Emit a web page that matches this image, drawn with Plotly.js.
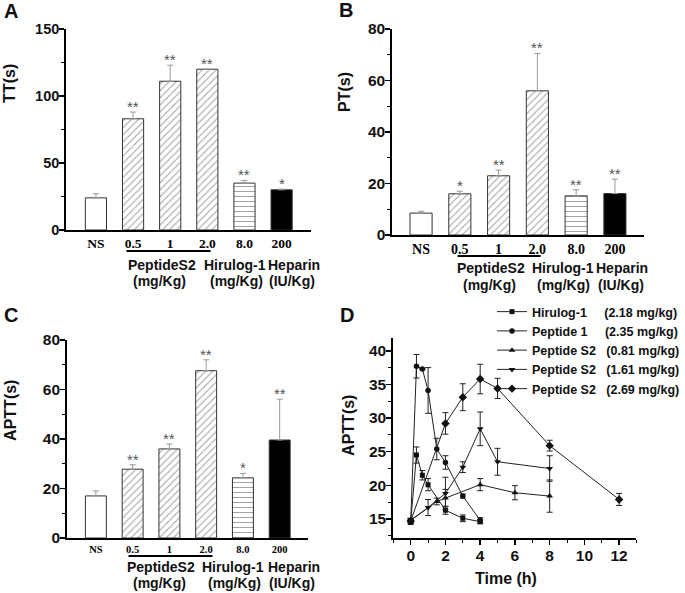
<!DOCTYPE html>
<html>
<head>
<meta charset="utf-8">
<script src="https://cdn.plot.ly/plotly-3.0.1.min.js"></script>
<style>html,body{margin:0;padding:0;background:#fff;}#chart{width:685px;height:593px;}</style>
</head>
<body>
<div id="chart"></div>
<script>
// ---------- data ----------
const categories = ['NS', '0.5', '1', '2.0', '8.0', '200'];
const ttMean = [24, 83, 111, 120, 35, 30];
const ttErr = [3, 5, 12, 0, 2, 0.5];
const ttStars = ['', '**', '**', '**', '**', '*'];
const ptMean = [8.5, 16, 23, 56, 15.2, 16.1];
const ptErr = [0.7, 1, 2.2, 14.5, 2.4, 5.6];
const ptStars = ['', '*', '**', '**', '**', '**'];
const apttMean = [17, 27.8, 36, 67.6, 24.3, 39.6];
const apttErr = [2, 1.8, 2, 4.4, 1.8, 16.5];
const apttStars = ['', '**', '**', '**', '*', '**'];

const hirT = [0, 0.33, 0.67, 1, 2, 3, 4];
const hirV = [14.5, 24.5, 21.5, 20.1, 16.3, 15.1, 14.6];
const hirE = [0.3, 1.2, 0.7, 0.9, 0.6, 0.5, 0.3];
const pep1T = [0, 0.33, 0.67, 1, 1.5, 2, 3, 4];
const pep1V = [14.7, 37.7, 37.3, 34.1, 25.4, 23.4, 18.4, 14.8];
const pep1E = [0.3, 1.75, 0, 3.4, 1.6, 1.0, 0.3, 0.4];
const s2LowT = [0, 1.5, 2, 4, 6, 8];
const s2LowV = [14.8, 17.6, 18.1, 20.1, 18.9, 18.4];
const s2LowE = [0.3, 0.5, 1.3, 0.9, 1.05, 2.4];
const s2MidT = [0, 1, 2, 3, 4, 5, 8];
const s2MidV = [14.8, 16.7, 18.8, 22.7, 28.4, 23.5, 22.5];
const s2MidE = [0.3, 1.2, 2.4, 0.8, 2.5, 2.0, 1.9];
const s2HighT = [0, 2, 3, 4, 5, 8, 12];
const s2HighV = [14.7, 29.2, 33.1, 35.8, 34.4, 25.9, 17.9];
const s2HighE = [0.3, 1.6, 2.0, 2.2, 1.5, 0.8, 0.9];

const seriesNames = ['Hirulog-1', 'Peptide 1', 'Peptide S2', 'Peptide S2', 'Peptide S2'];
const seriesDoses = ['(2.18 mg/kg)', '(2.35 mg/kg)', '(0.81 mg/kg)', '(1.61 mg/kg)', '(2.69 mg/kg)'];

// ---------- styles ----------
const W = 685, H = 593;
const SANS = 'Liberation Sans, Arial, sans-serif';
const SERIF = 'Liberation Serif, Times New Roman, serif';
const px = x => x / W;
const py = y => 1 - y / H;

// bar groups: [first index, last index (exclusive), fill, pattern]
const barGroups = [
  [0, 1, 'white', ''],
  [1, 4, 'white', '/'],
  [4, 5, 'white', '-'],
  [5, 6, 'black', '']
];

function barTraces(mean, err, ax, ay) {
  return barGroups.map(g => {
    const e = err.slice(g[0], g[1]);
    const m = {color: g[2], line: {color: '#333', width: 1}};
    if (g[3]) m.pattern = {shape: g[3], fgcolor: '#999', bgcolor: 'white', fgopacity: 1, size: 5, solidity: 0.18, fillmode: 'replace'};
    return {
      type: 'bar', x: categories.slice(g[0], g[1]), y: mean.slice(g[0], g[1]), xaxis: ax, yaxis: ay,
      width: 0.57, showlegend: false, hoverinfo: 'skip', marker: m,
      error_y: {type: 'data', symmetric: false, array: e, arrayminus: e.map(() => 0),
                color: '#999', thickness: 1, width: 3}
    };
  });
}
// significance marks: x given as the category's serial position on the category axis
function starAnnotations(mean, err, stars, ax, ay) {
  return categories.map((c, i) => ({
    text: stars[i], x: i, y: mean[i] + err[i], xref: ax, yref: ay,
    xanchor: 'center', yanchor: 'bottom', yshift: -5, showarrow: false,
    font: {family: SANS, size: 15, color: '#555'}
  })).filter(a => a.text);
}

const doseTraces = [
  [hirT, hirV, hirE, 'square', 5],
  [pep1T, pep1V, pep1E, 'circle', 5.5],
  [s2LowT, s2LowV, s2LowE, 'triangle-up', 6],
  [s2MidT, s2MidV, s2MidE, 'triangle-down', 6],
  [s2HighT, s2HighV, s2HighE, 'diamond', 6.5]
].map((d, i) => ({
  type: 'scatter', mode: 'lines+markers', x: d[0], y: d[1], xaxis: 'x4', yaxis: 'y4',
  name: seriesNames[i] + (i === 0 || i === 1 ? '\u00a0\u00a0\u00a0\u00a0\u00a0' : '\u00a0\u00a0\u00a0') + seriesDoses[i],
  line: {color: '#222', width: 1},
  marker: {color: '#111', size: d[4], symbol: d[3]},
  error_y: {type: 'data', array: d[2], color: '#222', thickness: 1, width: 3}
}));

const data = [
  ...barTraces(ttMean, ttErr, 'x', 'y'),
  ...barTraces(ptMean, ptErr, 'x2', 'y2'),
  ...barTraces(apttMean, apttErr, 'x3', 'y3'),
  ...doseTraces
];

function catAxis(dom, range, fsize, anchor) {
  return {domain: dom, type: 'category', categoryorder: 'array', categoryarray: categories,
          range: range, showline: true, linecolor: '#000', linewidth: 2,
          ticks: '', showgrid: false, zeroline: false, fixedrange: true, anchor: anchor,
          tickfont: {family: SERIF, size: fsize, color: '#000', weight: 'bold'}};
}
function valAxis(dom, range, dtick, minor, fsize, anchor) {
  return {domain: dom, range: range, dtick: dtick, tick0: 0, showline: true, linecolor: '#000', linewidth: 2,
          ticks: 'outside', ticklen: 5, tickwidth: 1.5, tickcolor: '#000', showgrid: false, zeroline: false,
          anchor: anchor, ticklabelstandoff: -3,
          minor: {dtick: minor, ticks: 'outside', ticklen: 3, tickwidth: 1, tickcolor: '#000', showgrid: false},
          tickfont: {family: SANS, size: fsize, color: '#111', weight: 'bold'}};
}

const layout = {
  width: W, height: H, margin: {l: 0, r: 0, t: 0, b: 0},
  paper_bgcolor: '#fff', plot_bgcolor: 'rgba(0,0,0,0)',
  barmode: 'overlay',
  xaxis: catAxis([px(67), px(315)], [-0.8, 5.8], 13.5, 'y'),
  yaxis: valAxis([py(230), py(29)], [0, 150], 50, 25, 14.5, 'x'),
  xaxis2: catAxis([px(397), px(652)], [-0.74, 5.76], 14, 'y2'),
  yaxis2: valAxis([py(235), py(29)], [0, 80], 20, 10, 15.5, 'x2'),
  xaxis3: catAxis([px(68), px(312)], [-0.78, 5.78], 10.5, 'y3'),
  yaxis3: valAxis([py(538), py(340)], [0, 80], 20, 10, 15.5, 'x3'),
  xaxis4: valAxis([px(398), px(644)], [-1, 13], 2, 1, 15.5, 'y4'),
  yaxis4: valAxis([py(538), py(338)], [12.17, 41.9], 5, 2.5, 15.5, 'x4'),
  showlegend: true,
  legend: {x: px(498), y: py(297), xanchor: 'left', yanchor: 'top', bgcolor: 'rgba(0,0,0,0)',
           font: {family: SANS, size: 12.5, color: '#111', weight: 'bold'}, tracegroupgap: 0}
};

function ann(text, x, y, size, extra) {
  return Object.assign({text: text, x: px(x), y: py(y), xref: 'paper', yref: 'paper',
    xanchor: 'center', yanchor: 'middle', showarrow: false,
    font: {family: SANS, size: size, color: '#111', weight: 'bold'}}, extra || {});
}

layout.annotations = [
  ann('A', 11, 11, 20), ann('B', 350, 10, 20), ann('C', 11, 315, 20), ann('D', 351, 315, 20),
  ann('TT(s)', 10, 83, 16, {textangle: -90}),
  ann('PT(s)', 349, 92, 16, {textangle: -90}),
  ann('APTT(s)', 10, 410, 16, {textangle: -90}),
  ann('APTT(s)', 352, 425, 16, {textangle: -90}),
  ann('Time (h)', 512, 578, 16),
  ann('PeptideS2', 163.5, 265, 14), ann('(mg/Kg)', 161, 281, 14),
  ann('Hirulog-1', 238, 265, 14), ann('(mg/Kg)', 239, 281, 14),
  ann('Heparin', 297, 265, 14), ann('(IU/Kg)', 295, 281, 14),
  ann('PeptideS2', 497, 268, 14), ann('(mg/Kg)', 495, 285, 14),
  ann('Hirulog-1', 570, 268, 14), ann('(mg/Kg)', 570, 285, 14),
  ann('Heparin', 629, 268, 14), ann('(IU/Kg)', 628, 285, 14),
  ann('PeptideS2', 163, 567, 14), ann('(mg/Kg)', 161, 583, 14),
  ann('Hirulog-1', 236, 567, 14), ann('(mg/Kg)', 237, 583, 14),
  ann('Heparin', 297, 567, 14), ann('(IU/Kg)', 295, 583, 14),
  ...starAnnotations(ttMean, ttErr, ttStars, 'x', 'y'),
  ...starAnnotations(ptMean, ptErr, ptStars, 'x2', 'y2'),
  ...starAnnotations(apttMean, apttErr, apttStars, 'x3', 'y3')
];

const hline = (x0, x1, y) => ({type: 'line', xref: 'paper', yref: 'paper',
  x0: px(x0), x1: px(x1), y0: py(y), y1: py(y), line: {color: '#000', width: 2}});
layout.shapes = [hline(128, 213, 251), hline(463, 547, 256), hline(130, 215, 556)];

Plotly.newPlot('chart', data, layout, {staticPlot: true});
</script>
</body>
</html>
